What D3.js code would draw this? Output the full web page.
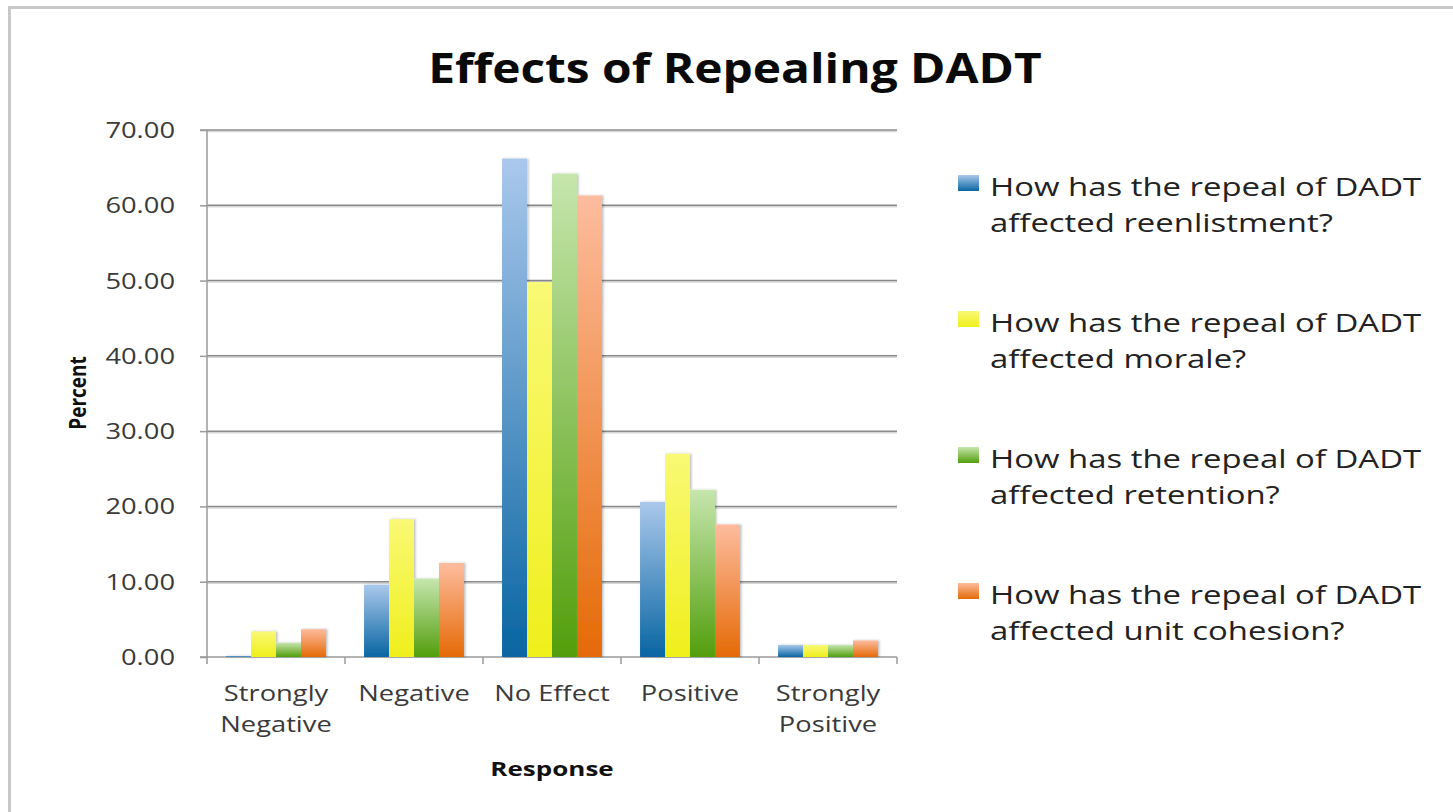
<!DOCTYPE html>
<html><head><meta charset="utf-8">
<script src="https://cdn.jsdelivr.net/npm/d3@7/dist/d3.min.js"></script>
<style>html,body{margin:0;padding:0;background:#fff;overflow:hidden}text{font-family:"Open Sans",sans-serif}</style>
</head><body>
<svg id="chart" width="1453" height="812"></svg>
<script>
const categories = ["Strongly Negative","Negative","No Effect","Positive","Strongly Positive"];
const categoryLines = [["Strongly","Negative"],["Negative"],["No Effect"],["Positive"],["Strongly","Positive"]];
const seriesNames = [
  "How has the repeal of DADT affected reenlistment?",
  "How has the repeal of DADT affected morale?",
  "How has the repeal of DADT affected retention?",
  "How has the repeal of DADT affected unit cohesion?"
];
const reenlistment = [0.15, 9.6, 66.2, 20.6, 1.6];
const morale       = [3.4, 18.3, 49.8, 27.0, 1.6];
const retention    = [1.9, 10.4, 64.2, 22.2, 1.6];
const cohesion     = [3.7, 12.5, 61.3, 17.6, 2.2];
const yTicks = [0,10,20,30,40,50,60,70];
const seriesValues = [reenlistment, morale, retention, cohesion];
const gradTop = ["#aac8ec","#f9f975","#c6e6ad","#fdbc9e"];
const gradBot = ["#0865a2","#efef1c","#529e0c","#e56a06"];

const svg = d3.select("#chart");
const SX = 1.3;
const defs = svg.append("defs");
gradTop.forEach((c,i)=>{
  const g = defs.append("linearGradient").attr("id","g"+i).attr("x1",0).attr("y1",0).attr("x2",0).attr("y2",1);
  g.append("stop").attr("offset","0%").attr("stop-color",c);
  g.append("stop").attr("offset","100%").attr("stop-color",gradBot[i]);
});
const f = defs.append("filter").attr("id","sh").attr("x","-20%").attr("y","-5%").attr("width","140%").attr("height","110%");
f.append("feDropShadow").attr("dx",1.5).attr("dy",0).attr("stdDeviation",1.2).attr("flood-color","#000").attr("flood-opacity",0.25);

// border
svg.append("path").attr("d","M9.5,812 L9.5,7.5 L1453,7.5").attr("fill","none").attr("stroke","#c8c8c8").attr("stroke-width",3);

const pL=207, pR=897, pT=130, pB=657;
const y = d3.scaleLinear().domain([0,70]).range([pB, pT]);
const x0 = d3.scaleBand().domain(categories).range([pL,pR]).padding(0);
const bw = x0.bandwidth();
const x1 = d3.scaleBand().domain(d3.range(4)).range([bw*0.138, bw*0.862]).padding(0);

function stretchText(sel, x, yy, sx){ sel.attr("transform",`translate(${x},${yy}) scale(${sx},1)`); return sel; }

// gridlines
svg.append("g").selectAll("line").data(yTicks.filter(d=>d>0)).join("line")
  .attr("x1",pL).attr("x2",pR).attr("y1",d=>y(d)+1.5).attr("y2",d=>y(d)+1.5)
  .attr("stroke","#d8d8d8").attr("stroke-width",1.5);
svg.append("g").selectAll("line").data(yTicks.filter(d=>d>0)).join("line")
  .attr("x1",pL).attr("x2",pR).attr("y1",d=>y(d)).attr("y2",d=>y(d))
  .attr("stroke","#8a8a8a").attr("stroke-width",1.5);

// y axis
const yAxis = d3.axisLeft(y).tickValues(yTicks).tickSize(7).tickFormat("");
const ya = svg.append("g").attr("transform",`translate(${pL},0)`).call(yAxis);
ya.selectAll("path,line").attr("stroke","#9a9a9a").attr("stroke-width",1.5);
ya.select(".domain").attr("d",`M-7,${pT}H0V${pB}H-7`).attr("stroke","#9a9a9a");
svg.append("g").selectAll("text").data(yTicks).join("text")
  .each(function(d){ stretchText(d3.select(this), 175, y(d)+8, SX); })
  .attr("text-anchor","end").attr("font-size",21).attr("fill","#3a3a3a")
  .text(d=>d3.format(".2f")(d));

// x axis
const xa = svg.append("g");
xa.append("line").attr("x1",pL).attr("x2",pR).attr("y1",pB).attr("y2",pB).attr("stroke","#9a9a9a").attr("stroke-width",1.5);
const bounds = categories.map(c=>x0(c)).concat([pR]);
xa.selectAll("line.tk").data(bounds).join("line").attr("class","tk")
  .attr("x1",d=>d).attr("x2",d=>d).attr("y1",pB).attr("y2",pB+7)
  .attr("stroke","#9a9a9a").attr("stroke-width",1.5);

// bars
const bars = svg.append("g").attr("filter","url(#sh)");
categories.forEach((c,ci)=>{
  seriesValues.forEach((vals,si)=>{
    bars.append("rect")
      .attr("x", x0(c)+x1(si)).attr("width", x1.bandwidth())
      .attr("y", y(vals[ci])).attr("height", pB - y(vals[ci]))
      .attr("fill", `url(#g${si})`);
  });
});

// category labels
categories.forEach((c,ci)=>{
  const cx = x0(c)+bw/2;
  categoryLines[ci].forEach((w,i)=>{
    stretchText(svg.append("text"), cx, 701+i*31, SX)
      .attr("text-anchor","middle").attr("font-size",21).attr("fill","#3a3a3a").text(w);
  });
});

// axis titles
stretchText(svg.append("text"), 552, 776, SX).attr("text-anchor","middle").attr("font-size",20).attr("font-weight","bold").attr("fill","#111").text("Response");
svg.append("text").attr("transform","translate(86,393) rotate(-90) scale(1,1.25)").attr("text-anchor","middle").attr("font-size",19).attr("font-weight","bold").attr("fill","#111").text("Percent");

// title
stretchText(svg.append("text"), 735, 83, 1.14).attr("text-anchor","middle").attr("font-size",42).attr("font-weight","bold").attr("fill","#0a0a0a").text("Effects of Repealing DADT");

// legend
const leg = svg.append("g");
seriesNames.forEach((s,i)=>{
  const by = 196 + i*136;
  leg.append("rect").attr("x",958).attr("y",by-21).attr("width",21).attr("height",16).attr("fill",`url(#g${i})`);
  const parts = [s.slice(0, s.indexOf("affected")-1), s.slice(s.indexOf("affected"))];
  parts.forEach((p,j)=>{
    stretchText(leg.append("text"), 990, by + j*36, SX).attr("font-size",25.3).attr("fill","#222").text(p);
  });
});
</script>
</body></html>
